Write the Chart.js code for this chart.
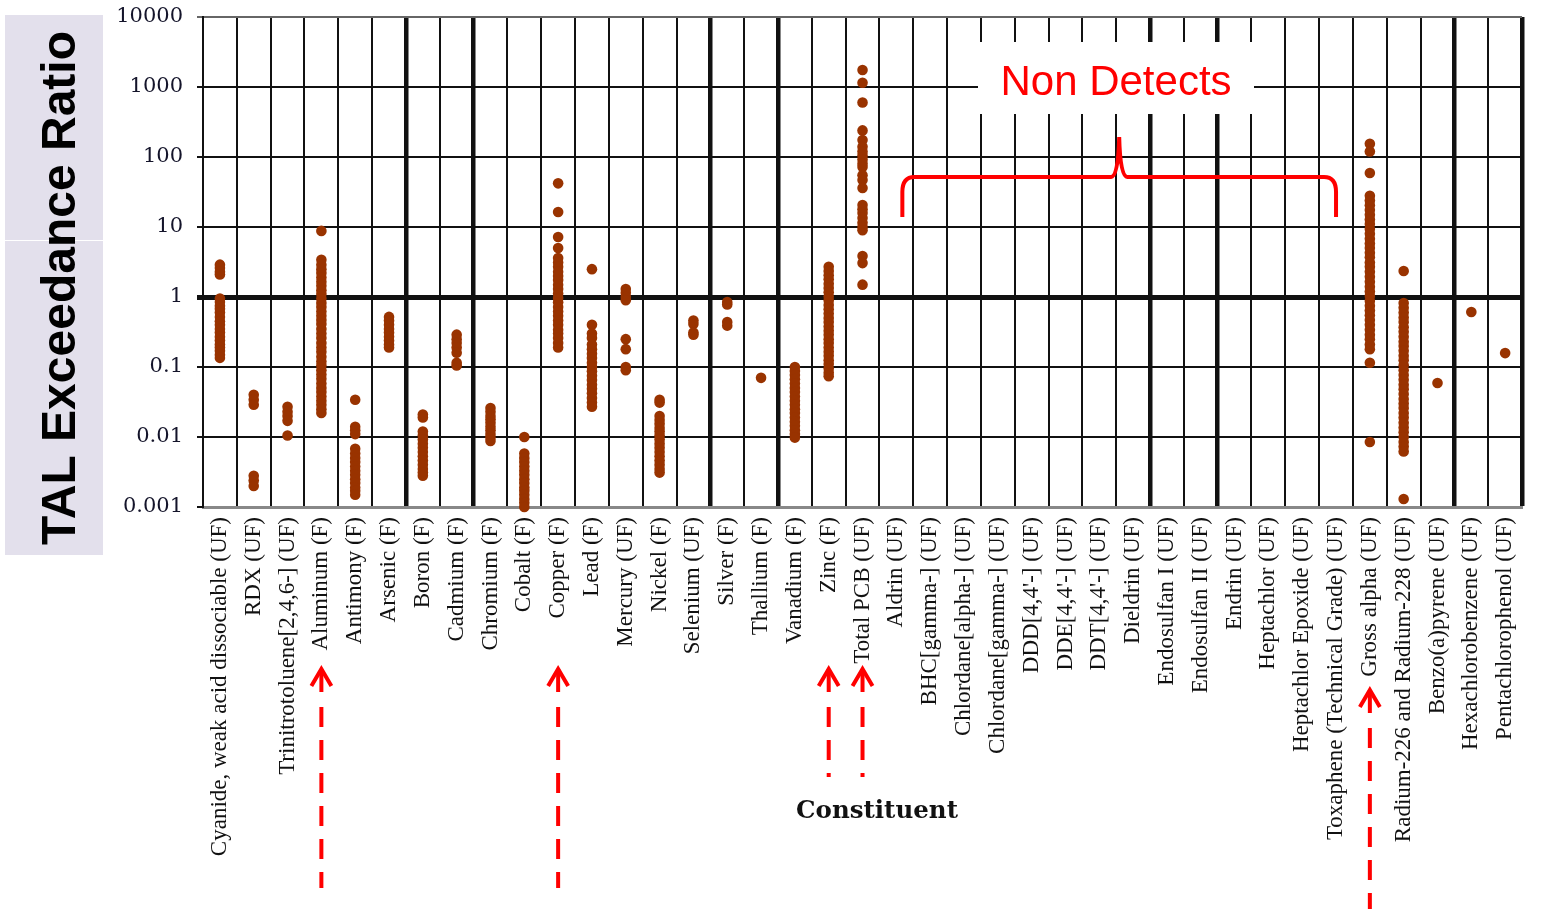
<!DOCTYPE html>
<html>
<head>
<meta charset="utf-8">
<title>TAL Exceedance Ratio by Constituent</title>
<script src="https://cdn.jsdelivr.net/npm/chart.js@4.4.1/dist/chart.umd.min.js"></script>
<style>
  html, body { margin: 0; padding: 0; background: #fff; }
  canvas { display: block; }
</style>
</head>
<body>
<canvas id="exceedanceChart" width="1543" height="909"></canvas>
<script>
// constituents along the x axis
const categories = [
    'Cyanide, weak acid dissociable (UF)', 'RDX (UF)', 'Trinitrotoluene[2,4,6-] (UF)', 'Aluminum (F)',
    'Antimony (F)', 'Arsenic (F)', 'Boron (F)', 'Cadmium (F)', 'Chromium (F)', 'Cobalt (F)', 'Copper (F)',
    'Lead (F)', 'Mercury (UF)', 'Nickel (F)', 'Selenium (UF)', 'Silver (F)', 'Thallium (F)', 'Vanadium (F)',
    'Zinc (F)', 'Total PCB (UF)', 'Aldrin (UF)', 'BHC[gamma-] (UF)', 'Chlordane[alpha-] (UF)',
    'Chlordane[gamma-] (UF)', 'DDD[4,4\'-] (UF)', 'DDE[4,4\'-] (UF)', 'DDT[4,4\'-] (UF)', 'Dieldrin (UF)',
    'Endosulfan I (UF)', 'Endosulfan II (UF)', 'Endrin (UF)', 'Heptachlor (UF)', 'Heptachlor Epoxide (UF)',
    'Toxaphene (Technical Grade) (UF)', 'Gross alpha (UF)', 'Radium-226 and Radium-228 (UF)',
    'Benzo(a)pyrene (UF)', 'Hexachlorobenzene (UF)', 'Pentachlorophenol (UF)'
];

const yTicks = [0.001, 0.01, 0.1, 1, 10, 100, 1000, 10000];

// exceedance ratios, per constituent
const cyanide = [2.9, 2.6, 2.3, 2.1, 0.95, 0.85, 0.75, 0.68, 0.6, 0.52, 0.45, 0.4, 0.35, 0.31, 0.27, 0.24, 0.21, 0.19, 0.17, 0.15, 0.135];
const rdx = [0.04, 0.034, 0.029, 0.0028, 0.0024, 0.002];
const tnt = [0.027, 0.023, 0.02, 0.017, 0.0105];
const aluminum = [8.8, 3.4, 2.9, 2.5, 2.2, 1.9, 1.65, 1.45, 1.25, 1.1, 0.95, 0.82, 0.72, 0.62, 0.54, 0.47, 0.41, 0.35, 0.3, 0.26, 0.22, 0.19, 0.165, 0.14, 0.12, 0.105, 0.09, 0.078, 0.068, 0.058, 0.05, 0.044, 0.038, 0.033, 0.029, 0.025, 0.022];
const antimony = [0.034, 0.014, 0.0125, 0.011, 0.0068, 0.0058, 0.005, 0.0044, 0.0038, 0.0033, 0.0029, 0.0025, 0.0022, 0.0019, 0.0017, 0.0015];
const arsenic = [0.52, 0.46, 0.4, 0.35, 0.31, 0.27, 0.24, 0.21, 0.19];
const boron = [0.021, 0.019, 0.012, 0.0105, 0.0092, 0.008, 0.007, 0.0061, 0.0053, 0.0046, 0.004, 0.0035, 0.0031, 0.0028];
const cadmium = [0.29, 0.25, 0.22, 0.19, 0.16, 0.115, 0.105];
const chromium = [0.026, 0.023, 0.02, 0.018, 0.016, 0.014, 0.0125, 0.011, 0.0098, 0.0088];
const cobalt = [0.01, 0.0058, 0.005, 0.0044, 0.0038, 0.0033, 0.0029, 0.0025, 0.0022, 0.0019, 0.0017, 0.0015, 0.0013, 0.00115, 0.001];
const copper = [42, 16.4, 7.2, 5.0, 3.6, 3.1, 2.7, 2.3, 2.0, 1.75, 1.5, 1.3, 1.12, 0.97, 0.84, 0.72, 0.62, 0.54, 0.46, 0.4, 0.34, 0.3, 0.26, 0.22, 0.19];
const lead = [2.5, 0.4, 0.3, 0.26, 0.21, 0.18, 0.155, 0.135, 0.115, 0.1, 0.087, 0.075, 0.065, 0.056, 0.049, 0.042, 0.036, 0.031, 0.027];
const mercury = [1.3, 1.15, 1.0, 0.9, 0.25, 0.18, 0.1, 0.09];
const nickel = [0.034, 0.031, 0.02, 0.0175, 0.0155, 0.0135, 0.012, 0.0105, 0.0092, 0.008, 0.007, 0.0061, 0.0053, 0.0046, 0.004, 0.0035, 0.0031];
const selenium = [0.46, 0.41, 0.31, 0.29];
const silver = [0.85, 0.78, 0.44, 0.39];
const thallium = [0.07];
const vanadium = [0.1, 0.088, 0.077, 0.067, 0.058, 0.05, 0.044, 0.038, 0.033, 0.029, 0.025, 0.022, 0.019, 0.0165, 0.0145, 0.0125, 0.011, 0.0098];
const zinc = [2.7, 2.35, 2.05, 1.8, 1.55, 1.35, 1.17, 1.02, 0.89, 0.77, 0.67, 0.58, 0.5, 0.44, 0.38, 0.33, 0.29, 0.25, 0.22, 0.19, 0.165, 0.145, 0.125, 0.11, 0.095, 0.083, 0.074];
const totalPcb = [1750, 1150, 600, 240, 175, 140, 120, 105, 92, 80, 72, 55, 47, 36, 20.6, 18, 15.8, 13.5, 11.5, 10, 9, 3.85, 3.05, 1.5];
const grossAlpha = [155, 120, 59, 28, 24, 20.5, 17.5, 15, 12.8, 11, 9.4, 8, 6.8, 5.8, 5, 4.3, 3.7, 3.1, 2.7, 2.3, 1.95, 1.65, 1.4, 1.2, 1.03, 0.88, 0.75, 0.64, 0.55, 0.47, 0.4, 0.34, 0.29, 0.25, 0.21, 0.18, 0.115, 0.0085];
const radium = [2.35, 0.82, 0.7, 0.6, 0.51, 0.44, 0.37, 0.32, 0.27, 0.23, 0.2, 0.17, 0.145, 0.125, 0.106, 0.09, 0.077, 0.066, 0.056, 0.048, 0.041, 0.035, 0.03, 0.026, 0.022, 0.019, 0.016, 0.0137, 0.0117, 0.01, 0.0085, 0.0073, 0.0062, 0.0013];
const benzoPyrene = [0.059];
const hexachlorobenzene = [0.61];
const pentachlorophenol = [0.158];
const nonDetect = [];

const ratios = [
    cyanide, rdx, tnt, aluminum, antimony, arsenic, boron, cadmium, chromium, cobalt, copper,
    lead, mercury, nickel, selenium, silver, thallium, vanadium, zinc, totalPcb,
    nonDetect, nonDetect, nonDetect, nonDetect, nonDetect, nonDetect, nonDetect, nonDetect,
    nonDetect, nonDetect, nonDetect, nonDetect, nonDetect, nonDetect,
    grossAlpha, radium, benzoPyrene, hexachlorobenzene, pentachlorophenol
];

// grid lines between these categories are drawn heavy
const heavyLines = [6, 8, 15, 17, 28, 30, 37, 39];

const points = [];
ratios.forEach((vals, i) => {
    vals.forEach(v => points.push({ x: categories[i], y: v }));
});

const RED = '#ff0000';

function drawArrow(ctx, x, yTip, yEnd) {
    ctx.strokeStyle = RED;
    ctx.lineWidth = 4;
    ctx.beginPath();
    ctx.moveTo(x, yTip + 2);
    ctx.lineTo(x, yTip + 25);
    ctx.stroke();
    ctx.setLineDash([20, 13]);
    ctx.beginPath();
    ctx.moveTo(x, yTip + 40);
    ctx.lineTo(x, yEnd);
    ctx.stroke();
    ctx.setLineDash([]);
    ctx.beginPath();
    ctx.moveTo(x - 10, yTip + 19);
    ctx.lineTo(x, yTip + 2);
    ctx.lineTo(x + 10, yTip + 19);
    ctx.stroke();
}

const overlays = {
    id: 'overlays',
    beforeDraw(chart) {
        const ctx = chart.ctx;
        ctx.save();
        ctx.fillStyle = '#fff';
        ctx.fillRect(0, 0, chart.width, chart.height);
        ctx.fillStyle = '#e3e0ec';
        ctx.fillRect(5, 15, 98, 540);
        ctx.fillStyle = '#fff';
        ctx.fillRect(5, 240, 98, 1);
        ctx.translate(75, 288);
        ctx.rotate(-Math.PI / 2);
        ctx.font = 'bold 48px "Liberation Sans", Arial, sans-serif';
        ctx.fillStyle = '#000';
        ctx.textAlign = 'center';
        ctx.textBaseline = 'alphabetic';
        ctx.fillText('TAL Exceedance Ratio', 0, 0);
        ctx.restore();
    },
    afterDraw(chart) {
        const { ctx, scales: { x } } = chart;
        ctx.save();

        // x axis title sits in the gap between the short labels
        ctx.font = 'bold 24.5px "DejaVu Serif", serif';
        ctx.fillStyle = '#111';
        ctx.textAlign = 'center';
        ctx.textBaseline = 'alphabetic';
        ctx.fillText('Constituent', 877, 818);

        // "Non Detects" label on a white patch
        ctx.fillStyle = '#fff';
        ctx.fillRect(978, 42, 276, 72);
        ctx.font = '42px "Liberation Sans", Arial, sans-serif';
        ctx.fillStyle = RED;
        ctx.fillText('Non Detects', 1116, 95);

        // brace over the non detect constituents
        const L = x.getPixelForValue(20) + 6;
        const R = x.getPixelForValue(33);
        const C = (L + R) / 2;
        ctx.strokeStyle = RED;
        ctx.lineWidth = 4;
        ctx.beginPath();
        ctx.moveTo(L, 217);
        ctx.lineTo(L, 192);
        ctx.quadraticCurveTo(L, 177, L + 12, 177);
        ctx.lineTo(C - 8, 177);
        ctx.quadraticCurveTo(C - 1, 177, C, 137);
        ctx.quadraticCurveTo(C + 1, 177, C + 8, 177);
        ctx.lineTo(R - 12, 177);
        ctx.quadraticCurveTo(R, 177, R, 192);
        ctx.lineTo(R, 217);
        ctx.stroke();

        drawArrow(ctx, x.getPixelForValue(3), 667, 888);
        drawArrow(ctx, x.getPixelForValue(10), 667, 888);
        drawArrow(ctx, x.getPixelForValue(18), 667, 777);
        drawArrow(ctx, x.getPixelForValue(19), 667, 777);
        drawArrow(ctx, x.getPixelForValue(34), 688, 915);
        ctx.restore();
    }
};

const chartCanvas = document.getElementById('exceedanceChart').getContext('2d');

const exceedanceChart = new Chart(chartCanvas, {
    type: 'line',
    plugins: [overlays],
    data: {
        labels: categories,
        datasets: [{
            label: 'TAL Exceedance Ratio',
            data: points,
            showLine: false,
            pointStyle: 'circle',
            pointRadius: 5.3,
            pointHoverRadius: 5.3,
            pointBackgroundColor: '#993300',
            pointBorderWidth: 0,
            clip: false
        }]
    },
    options: {
        responsive: false,
        animation: false,
        events: [],
        layout: {
            padding: { top: 17, right: 20, left: 0, bottom: 0 }
        },
        plugins: {
            legend: { display: false },
            tooltip: { enabled: false }
        },
        scales: {
            x: {
                type: 'category',
                offset: true,
                afterFit: s => { s.height = 402; },
                border: { display: true, color: '#888', width: 3 },
                grid: {
                    offset: true,
                    drawTicks: false,
                    color: '#111',
                    lineWidth: ctx => (ctx.index === undefined || heavyLines.includes(ctx.index)) ? 4.5 : 2
                },
                ticks: {
                    autoSkip: false,
                    maxRotation: 90,
                    minRotation: 90,
                    padding: 10,
                    color: '#111',
                    font: { family: '"Liberation Serif", serif', size: 23 }
                }
            },
            y: {
                type: 'logarithmic',
                min: 0.001,
                max: 10000,
                afterFit: s => {
                    s.width = 203;
                    s.paddingTop = 8;
                    s.paddingBottom = 8;
                },
                afterBuildTicks: s => { s.ticks = yTicks.map(v => ({ value: v })); },
                border: { display: true, color: '#111', width: 2 },
                grid: {
                    color: ctx => (ctx.tick && ctx.tick.value === 10000) ? '#666' : '#111',
                    lineWidth: ctx => (ctx.tick && ctx.tick.value === 1) ? 5 : 2,
                    tickLength: 6
                },
                ticks: {
                    padding: 14,
                    color: '#14142a',
                    font: { family: '"DejaVu Serif", serif', size: 21 },
                    callback: v => String(v)
                }
            }
        }
    }
});
</script>
</body>
</html>
